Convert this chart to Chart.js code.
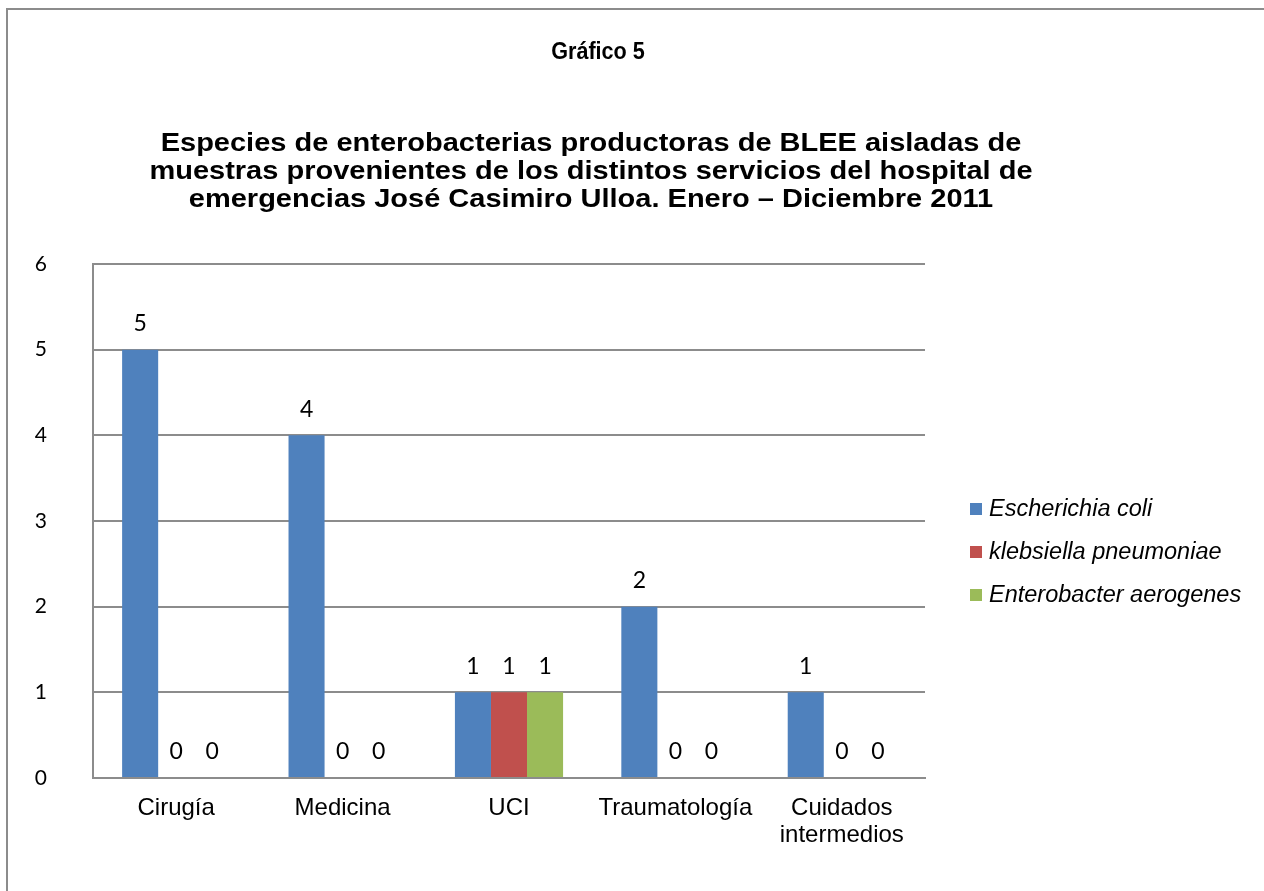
<!DOCTYPE html>
<html>
<head>
<meta charset="utf-8">
<script src="https://cdn.jsdelivr.net/npm/chart.js@4.4.1/dist/chart.umd.min.js"></script>
<style>
  html, body { margin: 0; padding: 0; background: #fff; }
  #wrap { position: relative; width: 1264px; height: 891px; overflow: hidden; }
  #frame { position: absolute; left: 6px; top: 8px; width: 1300px; height: 900px; border: 2px solid #8c8c8c; box-sizing: border-box; }
  canvas { position: absolute; left: 0; top: 0; }
</style>
</head>
<body>
<div id="wrap">
  <div id="frame"></div>
  <canvas id="chart" width="1264" height="891"></canvas>
</div>
<script>
// Data
const categories = ['Cirugía', 'Medicina', 'UCI', 'Traumatología', ['Cuidados', 'intermedios']];
const seriesNames = ['Escherichia coli', 'klebsiella pneumoniae', 'Enterobacter aerogenes'];
const ecoli = [5, 4, 1, 2, 1];
const klebsiella = [0, 0, 1, 0, 0];
const enterobacter = [0, 0, 1, 0, 0];
const yTicks = [0, 1, 2, 3, 4, 5, 6];
const colors = ['#4F81BD', '#C0504D', '#9BBB59'];

const titleMain = 'Gráfico 5';
const titleLines = [
    'Especies de enterobacterias productoras de BLEE aisladas de',
    'muestras provenientes de los distintos servicios del hospital de',
    'emergencias José Casimiro Ulloa. Enero – Diciembre 2011'
];

// titles, value labels and legend drawn on the canvas
const decorations = {
    id: 'decorations',
    afterDatasetsDraw(chart) {
        const ctx = chart.ctx;
        ctx.save();
        ctx.fillStyle = '#000';
        ctx.textAlign = 'center';
        ctx.textBaseline = 'middle';
        ctx.font = '23px Lato';
        chart.data.datasets.forEach((ds, i) => {
            const meta = chart.getDatasetMeta(i);
            meta.data.forEach((bar, j) => {
                ctx.fillText(String(ds.data[j]), bar.x, bar.y - 26);
            });
        });
        ctx.restore();
    },
    afterDraw(chart) {
        const ctx = chart.ctx;
        ctx.save();
        ctx.fillStyle = '#000';
        ctx.textAlign = 'center';
        ctx.textBaseline = 'middle';

        ctx.save();
        ctx.font = 'bold 24px "Liberation Sans"';
        ctx.translate(598, 52);
        ctx.scale(0.9, 1);
        ctx.fillText(titleMain, 0, 0);
        ctx.restore();

        // the long title is a bit wider than the font gives, stretch it
        ctx.font = 'bold 25px "Liberation Sans"';
        titleLines.forEach((line, i) => {
            ctx.save();
            ctx.translate(591, 144 + i * 28);
            ctx.scale(1.16, 1);
            ctx.fillText(line, 0, 0);
            ctx.restore();
        });

        // legend
        ctx.textAlign = 'left';
        ctx.font = 'italic 23.5px "Liberation Sans"';
        seriesNames.forEach((name, i) => {
            const y = 509 + i * 43;
            ctx.fillStyle = colors[i];
            ctx.fillRect(970, y - 6, 12, 12);
            ctx.fillStyle = '#000';
            ctx.fillText(name, 989, y);
        });
        ctx.restore();
    }
};

new Chart(document.getElementById('chart'), {
    type: 'bar',
    data: {
        labels: categories,
        datasets: [
            { label: seriesNames[0], data: ecoli, backgroundColor: colors[0] },
            { label: seriesNames[1], data: klebsiella, backgroundColor: colors[1] },
            { label: seriesNames[2], data: enterobacter, backgroundColor: colors[2] }
        ]
    },
    options: {
        responsive: false,
        animation: false,
        layout: { padding: { left: 0, top: 264, right: 339, bottom: 0 } },
        datasets: { bar: { categoryPercentage: 0.65, barPercentage: 1.0 } },
        plugins: { legend: { display: false }, tooltip: { enabled: false } },
        scales: {
            x: {
                grid: { display: false, drawTicks: false },
                border: { display: true, color: '#8c8c8c', width: 2 },
                ticks: { color: '#000', font: { family: 'Liberation Sans', size: 24, lineHeight: 1.12 }, padding: 17, maxRotation: 0, autoSkip: false },
                afterFit(scale) { scale.height = 113; }
            },
            y: {
                min: 0,
                max: 6,
                afterBuildTicks(scale) { scale.ticks = yTicks.map(v => ({ value: v })); },
                grid: { color: '#8c8c8c', lineWidth: 2, drawTicks: false },
                border: { display: true, color: '#8c8c8c', width: 2 },
                ticks: { color: '#000', font: { family: 'Lato', size: 21 }, padding: 46 },
                afterFit(scale) { scale.width = 93; }
            }
        }
    },
    plugins: [decorations]
});
</script>
</body>
</html>
